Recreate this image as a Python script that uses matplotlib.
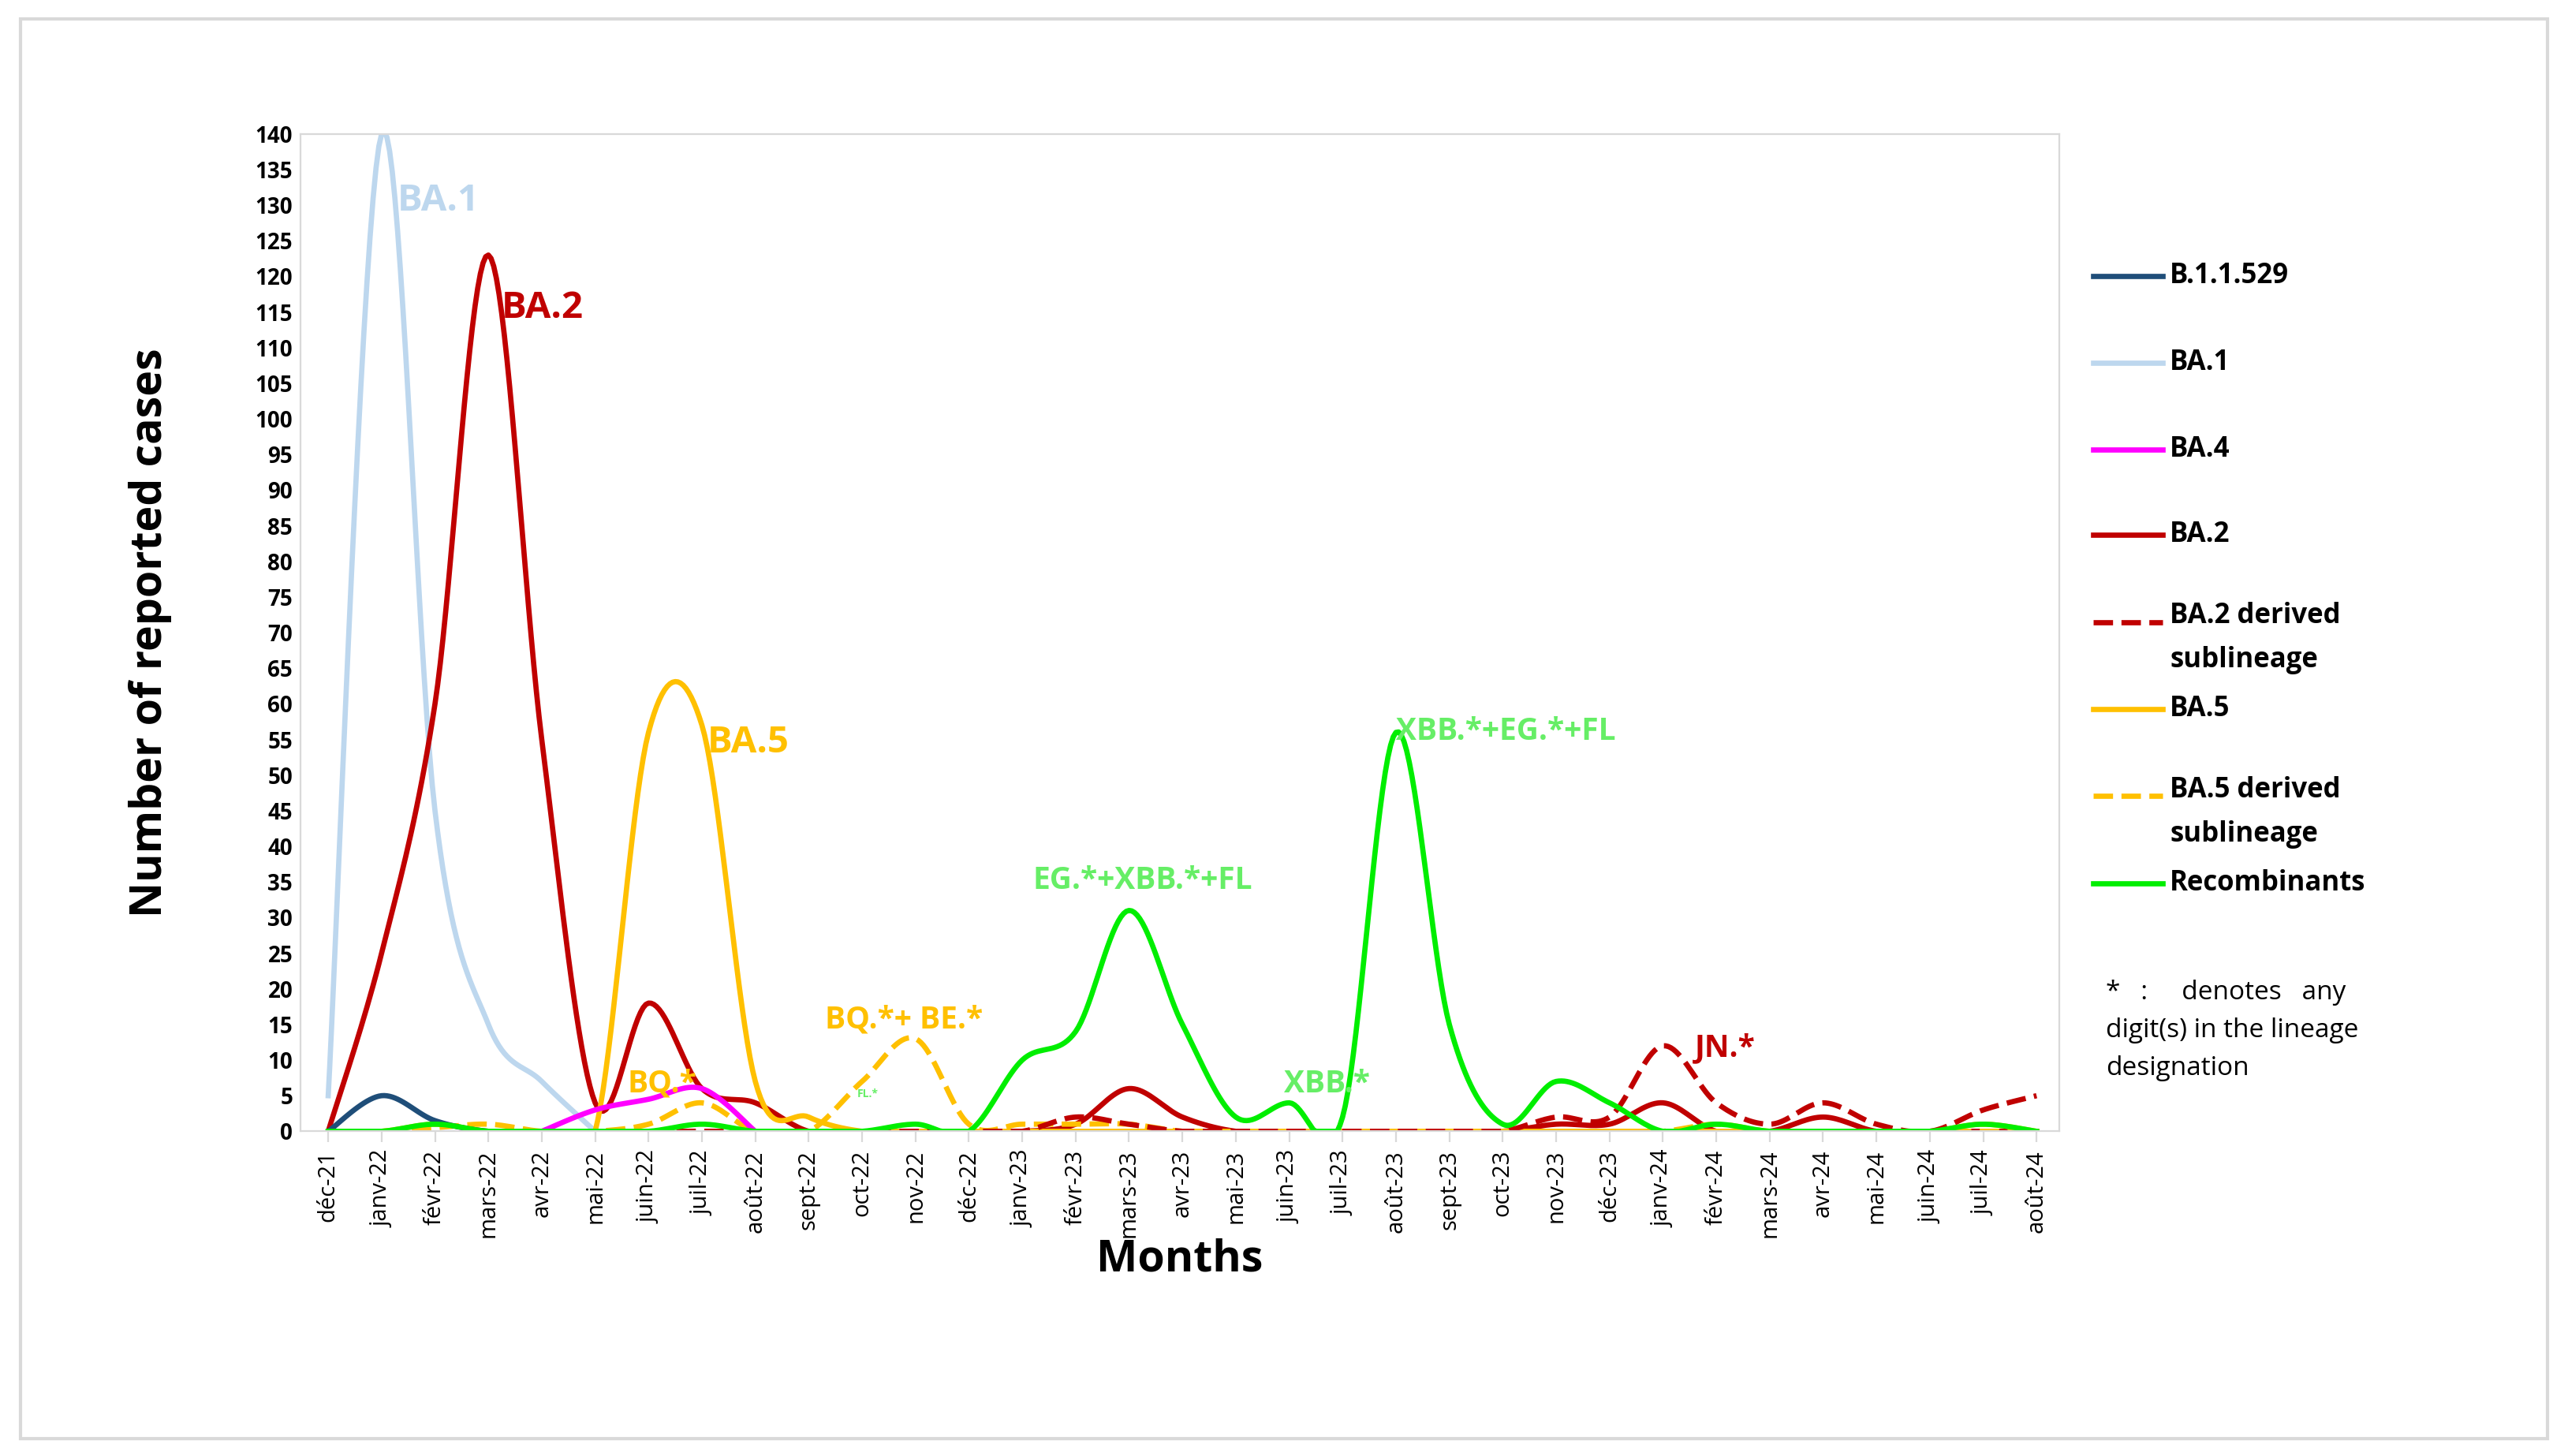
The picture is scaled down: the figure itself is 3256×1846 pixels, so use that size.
import numpy as np
import matplotlib
matplotlib.use('Agg')
import matplotlib.pyplot as plt
from matplotlib.lines import Line2D
from matplotlib.patches import Rectangle

plt.rcParams['font.family'] = 'Open Sans'

months = ['déc-21', 'janv-22', 'févr-22', 'mars-22', 'avr-22', 'mai-22', 'juin-22',
          'juil-22', 'août-22', 'sept-22', 'oct-22', 'nov-22', 'déc-22', 'janv-23',
          'févr-23', 'mars-23', 'avr-23', 'mai-23', 'juin-23', 'juil-23', 'août-23',
          'sept-23', 'oct-23', 'nov-23', 'déc-23', 'janv-24', 'févr-24', 'mars-24',
          'avr-24', 'mai-24', 'juin-24', 'juil-24', 'août-24']

b11529 = [0, 5, 1.5, 0, 0, 0]
ba1 = [5, 140, 45, 15, 7, 0]
ba4 = [None, None, None, None, 0, 3, 4.5, 6, 0]
ba2 = [0, 25, 60, 123, 55, 4, 18, 6, 4, 0, 0, 0, 0, 0, 1, 6, 2, 0, 0, 0, 0, 0, 0,
       1, 1, 4, 0, 0, 2, 0, 0, 0, 0]
ba2_der = [None, None, None, None, None, None, 0, 0, 0, 0, 0, 0, 0, 0, 2, 1, 0, 0, 0,
           0, 0, 0, 0, 2, 2, 12, 4, 1, 4, 1, 0, 3, 5]
ba5 = [0, 0, 1, 0, 0, 0, 56, 57, 7, 2, 0, 0, 0, 0, 0, 0, 0, 0, 0, 0, 0, 0, 0, 0, 0,
       0, 0, 0, 0, 0, 0, 1, 0]
ba5_der = [0, 0, 0.5, 1, 0, 0, 1, 4, 0, 0, 7, 13, 1, 1, 1, 1, 0, 0, 0, 0, 0, 0, 0, 0,
           0, 0, 1, 0, 0, 0, 0, 0, 0]
recomb = [0, 0, 1, 0, 0, 0, 0, 1, 0, 0, 0, 1, 0, 10, 14, 31, 15, 2, 4, 2, 56, 15, 1,
          7, 4, 0, 1, 0, 0, 0, 0, 1, 0]


def smooth(vals, n=20):
    """Bezier curve through the points, like an Excel smoothed line."""
    p = np.array([(i, v) for i, v in enumerate(vals) if v is not None], dtype=float)
    p = np.vstack([p[0], p, p[-1]])
    xs, ys = [], []
    t = np.linspace(0, 1, n, endpoint=False)[:, None]
    for i in range(1, len(p) - 2):
        p0, p1, p2, p3 = p[i - 1], p[i], p[i + 1], p[i + 2]
        c1 = p1 + (p2 - p0) / 6
        c2 = p2 - (p3 - p1) / 6
        pt = (1 - t) ** 3 * p1 + 3 * (1 - t) ** 2 * t * c1 \
            + 3 * (1 - t) * t ** 2 * c2 + t ** 3 * p2
        xs.extend(pt[:, 0])
        ys.extend(pt[:, 1])
    xs.append(p[-2, 0])
    ys.append(p[-2, 1])
    return np.array(xs), np.array(ys)


c_b = '#1f4e79'
c_ba1 = '#bdd7ee'
c_ba4 = '#ff00ff'
c_ba2 = '#c00000'
c_ba5 = '#ffc000'
c_rec = '#00ee00'
c_lab = '#66ee66'

fig = plt.figure(figsize=(16.28, 9.23), dpi=200)
fig.add_artist(Rectangle((0.008, 0.012), 0.984, 0.975, transform=fig.transFigure,
                         fill=False, ec='#d9d9d9', lw=1.5))
ax = fig.add_axes([0.117, 0.223, 0.685, 0.685])

series = [(ba1, c_ba1, '-'), (ba2, c_ba2, '-'), (ba5, c_ba5, '-'),
          (ba5_der, c_ba5, '--'), (ba2_der, c_ba2, '--'), (ba4, c_ba4, '-'),
          (b11529, c_b, '-'), (recomb, c_rec, '-')]
for vals, col, ls in series:
    x, y = smooth(vals)
    ax.plot(x, np.clip(y, 0, None), color=col, ls=ls, lw=2.4)

ax.set_xlim(-0.52, 32.43)
ax.set_ylim(0, 140)
ax.set_yticks(range(0, 141, 5))
ax.set_xticks(range(len(months)))
ax.set_xticklabels(months, rotation=90, fontsize=10.5)
for lab in ax.get_yticklabels():
    lab.set_fontweight('bold')
    lab.set_fontsize(10)
ax.tick_params(axis='y', length=0)
ax.tick_params(axis='x', length=5, color='#d9d9d9')
for s in ax.spines.values():
    s.set_color('#d9d9d9')
ax.set_xlabel('Months', fontsize=20, fontweight='bold', labelpad=0)
ax.set_ylabel('Number of reported cases', fontsize=20, fontweight='bold', labelpad=38)

ann = [(1.3, 128, 'BA.1', c_ba1, 17), (3.25, 113, 'BA.2', c_ba2, 17),
       (7.1, 52, 'BA.5', c_ba5, 17), (5.6, 4.5, 'BQ.*', c_ba5, 14),
       (9.3, 13.5, 'BQ.*+ BE.*', c_ba5, 14), (13.2, 33, 'EG.*+XBB.*+FL', c_lab, 14),
       (17.9, 4.5, 'XBB.*', c_lab, 14), (20.0, 54, 'XBB.*+EG.*+FL', c_lab, 14),
       (25.6, 9.5, 'JN.*', c_ba2, 14), (9.9, 4.5, 'FL.*', c_lab, 5)]
for x, y, s, col, fs in ann:
    ax.text(x, y, s, color=col, fontsize=fs, fontweight='bold', va='bottom')

leg = [('B.1.1.529', c_b, '-'), ('BA.1', c_ba1, '-'), ('BA.4', c_ba4, '-'),
       ('BA.2', c_ba2, '-'), ('BA.2 derived\nsublineage', c_ba2, '--'),
       ('BA.5', c_ba5, '-'), ('BA.5 derived\nsublineage', c_ba5, '--'),
       ('Recombinants', c_rec, '-')]
ys = [168, 221, 274, 326, 379, 432, 485, 538]
for (lab, col, ls), yy in zip(leg, ys):
    fy = 1 - yy / 887
    fig.add_artist(Line2D([0.815, 0.842], [fy, fy], color=col, ls=ls, lw=2.4,
                          transform=fig.transFigure))
    two = '\n' in lab
    fig.text(0.845, fy + (0.014 if two else 0), lab, fontsize=12.5, fontweight='bold',
             va='top' if two else 'center', linespacing=1.75)
fig.text(0.820, 1 - 628 / 887,
         '*   :     denotes   any\ndigit(s) in the lineage\ndesignation',
         fontsize=12, va='center', linespacing=1.6)

fig.savefig('out.png', dpi=200)
